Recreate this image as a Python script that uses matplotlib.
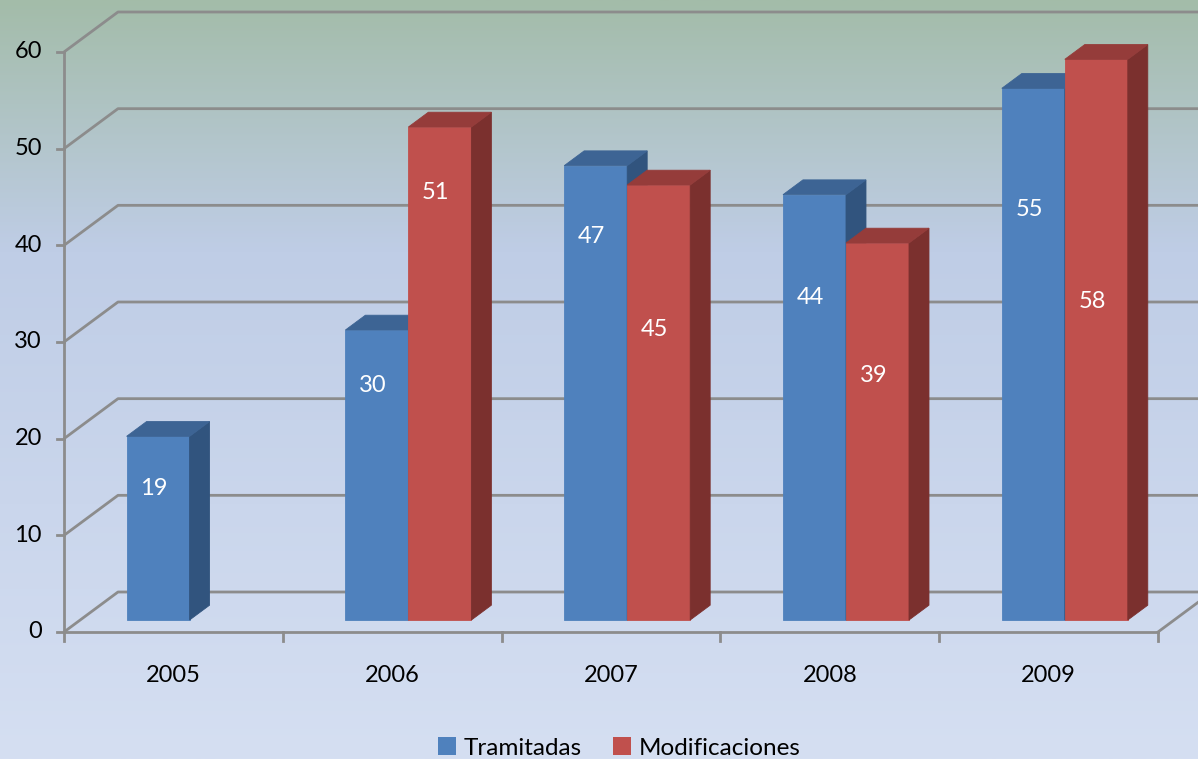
import numpy as np
import matplotlib
matplotlib.use("Agg")
import matplotlib.pyplot as plt
from matplotlib.colors import LinearSegmentedColormap
from matplotlib.patches import Polygon, Patch

# ------------------------------------------------------------------ #
# Data
# ------------------------------------------------------------------ #
years = ["2005", "2006", "2007", "2008", "2009"]
tramitadas = [19, 30, 47, 44, 55]
modificaciones = [None, 51, 45, 39, 58]
y_ticks = [0, 10, 20, 30, 40, 50, 60]

# label heights (in value units, as placed in the original 3D chart)
label_h_tram = [14.8, 25.5, 40.9, 34.6, 43.7]
label_h_mod = [None, 45.5, 31.3, 26.5, 34.2]

# ------------------------------------------------------------------ #
# Layout / style
# ------------------------------------------------------------------ #
W, H, DPI = 1198, 759, 100
PX_X = 218.8          # px per category
PX_Y = 580 / 60       # px per value unit
X0_PX, Y0_PX = 64, 632
DX = 54 / PX_X        # wall depth offset (category units)
DY = 40 / PX_Y        # wall depth offset (value units)
D0, D1 = 0.30, 0.67   # bar front / back depth fraction
BAR_W = 63 / PX_X

GRID = "#8c8c8c"
FONT = ["Lato", "DejaVu Sans"]
FS = 17
COLORS = {
    "blue": ("#4f81bd", "#3d6494", "#31547e"),
    "red": ("#c0504d", "#953c3a", "#7b302e"),
}

plt.rcParams["font.family"] = FONT

fig = plt.figure(figsize=(W / DPI, H / DPI), dpi=DPI)
ax = fig.add_axes([0, 0, 1, 1])
ax.set_xlim(-X0_PX / PX_X, (W - X0_PX) / PX_X)
ax.set_ylim((Y0_PX - H) / PX_Y, Y0_PX / PX_Y)
ax.axis("off")

# background gradient (green at top -> light blue at bottom)
cmap = LinearSegmentedColormap.from_list(
    "bg", [(0, "#a3bca9"), (0.33, "#bfcde6"), (1, "#d5dff2")])
grad = np.linspace(0, 1, 256).reshape(-1, 1)
ax.imshow(grad, cmap=cmap, aspect="auto", zorder=0, origin="upper",
          extent=[*ax.get_xlim(), *ax.get_ylim()])

n = len(years)
lw = 2.0

# walls / gridlines
for v in y_ticks:
    ax.plot([0, DX, n + DX + 1], [v, v + DY, v + DY], color=GRID, lw=lw,
            zorder=1, solid_capstyle="butt")
    ax.plot([-7 / PX_X, 0], [v, v], color=GRID, lw=lw, zorder=1)
    ax.text(-22 / PX_X, v, str(v), ha="right", va="center", fontsize=FS,
            color="black")
ax.plot([0, 0], [0, y_ticks[-1]], color=GRID, lw=lw, zorder=1)
ax.plot([0, n], [0, 0], color=GRID, lw=lw, zorder=1)
ax.plot([n, n + DX], [0, DY], color=GRID, lw=lw, zorder=1)
for i in range(n + 1):
    ax.plot([i, i], [0, -9 / PX_Y], color=GRID, lw=lw, zorder=1)
for i, yr in enumerate(years):
    ax.text(i + 0.5, -43 / PX_Y, yr, ha="center", va="center", fontsize=FS)


def bar3d(xl, v, colors):
    front, top, side = colors
    xr = xl + BAR_W
    f = [(xl + D0 * DX, D0 * DY), (xr + D0 * DX, D0 * DY),
         (xr + D0 * DX, v + D0 * DY), (xl + D0 * DX, v + D0 * DY)]
    s = [(xr + D0 * DX, D0 * DY), (xr + D1 * DX, D1 * DY),
         (xr + D1 * DX, v + D1 * DY), (xr + D0 * DX, v + D0 * DY)]
    t = [(xl + D0 * DX, v + D0 * DY), (xr + D0 * DX, v + D0 * DY),
         (xr + D1 * DX, v + D1 * DY), (xl + D1 * DX, v + D1 * DY)]
    for pts, c in ((f, front), (s, side), (t, top)):
        ax.add_patch(Polygon(pts, closed=True, facecolor=c, edgecolor=c,
                             lw=0.6, zorder=3))


for i in range(n):
    xl = i + 0.5 - BAR_W
    series = [(tramitadas[i], label_h_tram[i], "blue"),
              (modificaciones[i], label_h_mod[i], "red")]
    for k, (v, lh, key) in enumerate(series):
        if v is None:
            continue
        x = xl + k * BAR_W
        bar3d(x, v, COLORS[key])
        ax.text(x + BAR_W / 2 + D0 * DX - 4 / PX_X, lh, str(v), ha="center",
                va="center", color="white", fontsize=FS, zorder=4)

handles = [Patch(facecolor=COLORS["blue"][0], label="Tramitadas"),
           Patch(facecolor=COLORS["red"][0], label="Modificaciones")]
ax.legend(handles=handles, loc="center", bbox_to_anchor=(619 / W, 1 - 748 / H),
          ncol=2, frameon=False, fontsize=17.5, handlelength=0.75,
          handleheight=0.75, handletextpad=0.3, columnspacing=1.3,
          borderpad=0)

fig.savefig("out.png", dpi=DPI)
